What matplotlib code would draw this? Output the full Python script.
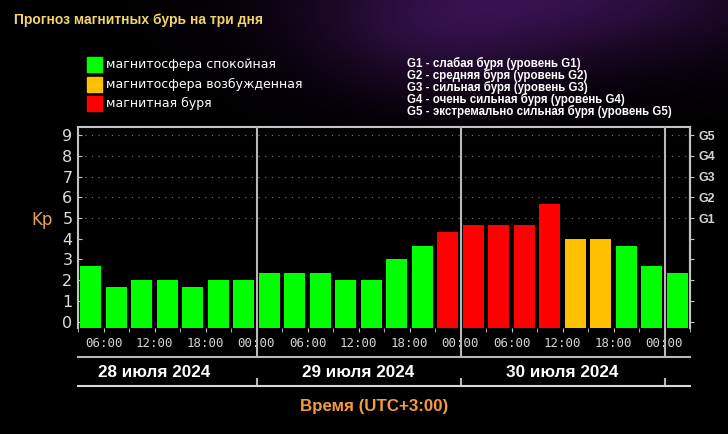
import numpy as np
import matplotlib
matplotlib.use("Agg")
import matplotlib.pyplot as plt
from matplotlib.patches import Rectangle

# Kp forecast, 3-hour slots from 28 July 03:00 to 31 July 03:00 (UTC+3)
kp_values = [2.67, 1.67, 2.0, 2.0, 1.67, 2.0, 2.0,
             2.33, 2.33, 2.33, 2.0, 2.0, 3.0, 3.67, 4.33,
             4.67, 4.67, 4.67, 5.67, 4.0, 4.0, 3.67, 2.67,
             2.33]
kp_levels = ["calm"] * 14 + ["storm"] * 5 + ["active"] * 2 + ["calm"] * 3

level_colors = {"calm": "#00ff00", "active": "#ffc000", "storm": "#ff0000"}
legend_labels = ["магнитосфера спокойная", "магнитосфера возбужденная", "магнитная буря"]
g_legend = ["G1 - слабая буря (уровень G1)",
            "G2 - средняя буря (уровень G2)",
            "G3 - сильная буря (уровень G3)",
            "G4 - очень сильная буря (уровень G4)",
            "G5 - экстремально сильная буря (уровень G5)"]
g_labels = ["G1", "G2", "G3", "G4", "G5"]
time_labels = ["06:00", "12:00", "18:00", "00:00"]
day_labels = ["28 июля 2024", "29 июля 2024", "30 июля 2024"]

W, H = 728, 434
fx = lambda px: px / W
fy = lambda py: 1 - py / H

fig = plt.figure(figsize=(W / 100, H / 100), dpi=100)
fig.patch.set_facecolor("black")

# faint purple nebula behind everything
yy, xx = np.mgrid[0:H, 0:W]
glow = np.exp(-((xx - 560) ** 2 / (2 * 160.0 ** 2) + (yy + 10) ** 2 / (2 * 50.0 ** 2)))
glow += 0.5 * np.exp(-((xx - 430) ** 2 / (2 * 90.0 ** 2) + (yy - 40) ** 2 / (2 * 45.0 ** 2)))
img = np.zeros((H, W, 3))
img[..., 0] = 0.19 * glow
img[..., 1] = 0.06 * glow
img[..., 2] = 0.27 * glow
bg = fig.add_axes([0, 0, 1, 1])
bg.imshow(np.clip(img, 0, 1), extent=[0, 1, 0, 1], aspect="auto")
bg.axis("off")

ax = fig.add_axes([fx(78), fy(327.5), 612 / W, 200.5 / H])
ax.set_facecolor("black")

x = 4.5 + 3 * np.arange(len(kp_values))
ybase = -0.28
ax.bar(x, np.array(kp_values) - ybase, bottom=ybase, width=2.46,
       color=[level_colors[l] for l in kp_levels], zorder=3)

for lvl in range(5, 10):
    ax.axhline(lvl, color="#7a7a7a", lw=0.8, ls=(0, (1, 5)), zorder=1)

ax.set_xlim(3, 75)
ax.set_ylim(ybase, 9.39)

spine_c = "#c4c4c4"
for s in ["top", "left", "right"]:
    ax.spines[s].set_color(spine_c)
    ax.spines[s].set_linewidth(1.5)
ax.spines["bottom"].set_visible(False)

ax.set_yticks(range(10))
ax.tick_params(axis="y", direction="in", length=3, color=spine_c,
               labelcolor="#dcdcdc", labelsize=11.5, pad=4)

ax.set_xticks(np.arange(6, 73, 6))
ax.set_xticklabels(time_labels * 3, family="DejaVu Sans Mono")
ax.set_xticks(np.arange(3, 76, 3), minor=True)
ax.tick_params(axis="x", which="both", direction="out", length=3, color=spine_c,
               labelcolor="#d4d4d4", labelsize=9, pad=4)

ax2 = ax.twinx()
ax2.set_ylim(ybase, 9.39)
ax2.set_yticks(range(10))
ax2.set_yticklabels([""] * 5 + g_labels, family="Liberation Sans", weight="bold")
ax2.tick_params(axis="y", direction="out", length=3, color=spine_c,
                labelcolor="#d4d4d4", labelsize=9, pad=3)
for s in ["top", "left", "bottom"]:
    ax2.spines[s].set_visible(False)
ax2.spines["right"].set_color(spine_c)
ax2.spines["right"].set_linewidth(1.5)

ax.text(-0.059, 4.9, "Kp", transform=ax.get_yaxis_transform(), color="#e8a060",
        fontsize=12, ha="center", va="center")

# day separators and date band below the axis
xt = ax.get_xaxis_transform()
y_line1, y_line2, y_date = -0.147, -0.292, -0.222
for d in [24, 48, 72]:
    ax.plot([d, d], [1, y_line1], transform=xt, color="#b8b8b8", lw=1.5, clip_on=False, zorder=4)
    ax.plot([d, d], [-0.257, y_line2], transform=xt, color="#b8b8b8", lw=1.5, clip_on=False)
ax.plot([3, 75], [y_line1, y_line1], transform=xt, color="#b8b8b8", lw=1.5, clip_on=False)
ax.plot([3, 75], [y_line2, y_line2], transform=xt, color="#d8d8d8", lw=1.5, clip_on=False)
for i, lab in enumerate(day_labels):
    ax.text(12 + 24 * i, y_date, lab, transform=xt, ha="center", va="center",
            color="white", fontsize=12.3, weight="bold", family="Liberation Sans")

fig.text(fx(374), fy(406), "Время (UTC+3:00)", ha="center", va="center",
         color="#f59a3e", fontsize=12.2, weight="bold", family="Liberation Sans")

fig.text(fx(14), fy(20), "Прогноз магнитных бурь на три дня", ha="left", va="center",
         color="#f3d36a", fontsize=10, weight="bold", family="Liberation Sans")

for i, (lab, key) in enumerate(zip(legend_labels, ["calm", "active", "storm"])):
    yc = 64.5 + 19.5 * i
    fig.patches.append(Rectangle((fx(87), fy(yc + 7.5)), 15 / W, 15 / H,
                                 transform=fig.transFigure, color=level_colors[key]))
    fig.text(fx(106), fy(yc), lab, ha="left", va="center", color="white", fontsize=9)

for i, lab in enumerate(g_legend):
    fig.text(fx(407), fy(63 + 12 * i), lab, ha="left", va="center", color="white",
             fontsize=8.3, weight="bold", family="Liberation Sans")

fig.savefig("out.png", dpi=100, facecolor="black")
